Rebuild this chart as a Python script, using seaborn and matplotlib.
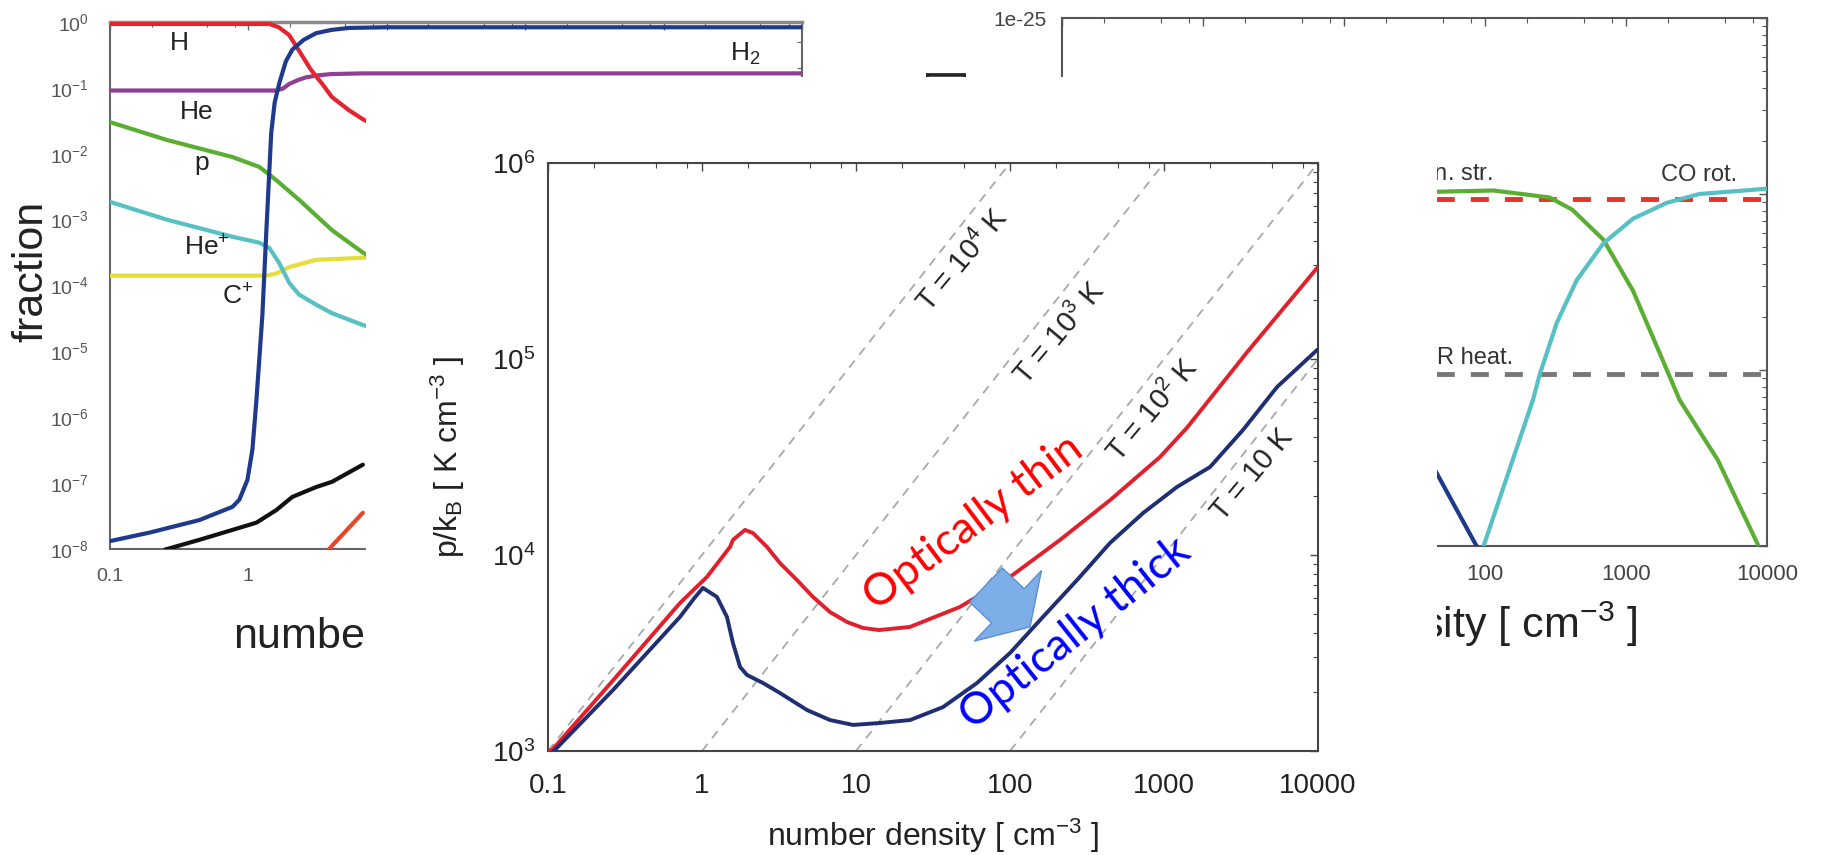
import numpy as np
import pandas as pd
import matplotlib
matplotlib.use("Agg")
import matplotlib.pyplot as plt
import seaborn as sns
from matplotlib.patches import Rectangle
from matplotlib.ticker import LogLocator, FuncFormatter, LogFormatterMathtext, NullFormatter

sns.set_theme(style="white")
plt.rcParams["font.family"] = ["Liberation Sans", "DejaVu Sans"]
plt.rcParams["mathtext.fontset"] = "custom"
plt.rcParams["mathtext.rm"] = "Liberation Sans"
plt.rcParams["mathtext.it"] = "Liberation Sans:italic"
plt.rcParams["mathtext.bf"] = "Liberation Sans:bold"

# ---------------- chemical abundances (log10 n [cm^-3], log10 fraction) ----------------
h_logn = [-1.0, 0.15, 0.22, 0.295, 0.367, 0.45, 0.53, 0.604, 0.727, 0.83, 0.95]
h_logx = [-0.03, -0.03, -0.08, -0.2, -0.44, -0.72, -0.93, -1.14, -1.34, -1.48, -1.6]

he_logn = [-1.0, 0.2, 0.25, 0.295, 0.36, 0.417, 0.5, 0.6, 0.83, 1.5, 4.0]
he_logx = [-1.04, -1.04, -1.01, -0.94, -0.88, -0.84, -0.81, -0.79, -0.78, -0.78, -0.78]

h2_logn = [-1.0, -0.712, -0.353, -0.115, -0.065, -0.007, 0.029, 0.058, 0.101, 0.129,
           0.165, 0.19, 0.223, 0.27, 0.317, 0.40, 0.489, 0.60, 0.727, 1.0, 4.0]
h2_logx = [-7.88, -7.75, -7.56, -7.36, -7.25, -6.95, -6.49, -5.74, -4.45, -3.2,
           -1.68, -1.22, -0.93, -0.60, -0.42, -0.27, -0.17, -0.12, -0.09, -0.08, -0.08]

p_logn = [-1.0, -0.59, -0.115, 0.079, 0.201, 0.367, 0.604, 0.827, 0.95]
p_logx = [-1.52, -1.79, -2.05, -2.2, -2.4, -2.7, -3.16, -3.5, -3.65]

hep_logn = [-1.0, -0.59, -0.115, 0.079, 0.151, 0.223, 0.295, 0.367, 0.489, 0.604, 0.827, 0.95]
hep_logx = [-2.73, -3.0, -3.26, -3.35, -3.43, -3.66, -3.96, -4.14, -4.29, -4.42, -4.6, -4.68]

cp_logn = [-1.0, 0.129, 0.2, 0.295, 0.489, 0.827, 0.95]
cp_logx = [-3.85, -3.85, -3.82, -3.72, -3.61, -3.58, -3.57]

em_logn = [-0.604, -0.353, -0.115, 0.058, 0.201, 0.317, 0.489, 0.604, 0.827]
em_logx = [-8.01, -7.86, -7.71, -7.6, -7.41, -7.21, -7.06, -6.98, -6.72]

co_logn = [0.56, 0.583, 0.827]
co_logx = [-8.05, -8.0, -7.45]

abund_labels = [("H", -0.496, -0.32), ("He", -0.374, -1.366), ("p", -0.338, -2.14),
                ("He$^{+}$", -0.302, -3.43), ("C$^{+}$", -0.079, -4.17), ("H$_2$", 3.59, -0.49)]

# ---------------- heating / cooling rates (log10 n, log10 rate) ----------------
fs_logn = [1.5, 2.06, 2.46, 2.62, 2.84, 3.05, 3.29, 3.38, 3.65, 3.94, 4.0]
fs_logl = [-25.99, -25.98, -26.02, -26.09, -26.26, -26.55, -27.0, -27.17, -27.51, -28.0, -28.1]

corot_logn = [1.9, 1.99, 2.18, 2.34, 2.39, 2.51, 2.65, 2.84, 3.05, 3.29, 3.52, 4.0]
corot_logl = [-28.6, -28.0, -27.55, -27.17, -27.02, -26.73, -26.49, -26.28, -26.14, -26.05, -26.0, -25.97]

h2c_logn = [1.6, 1.66, 1.94, 2.0]
h2c_logl = [-27.5, -27.59, -28.0, -28.1]

pe_logn = [-1.0, 4.0]
pe_logl = [-26.03, -26.03]
cr_logn = [-1.0, 4.0]
cr_logl = [-27.02, -27.02]

rate_labels = [("C$^{+}$ fin. str.", 2.057, -25.89, "right"),
               ("CO rot.", 3.518, -25.89, "center"),
               ("CR heat.", 2.2, -26.93, "right")]

# ---------------- thermal pressure (log10 n, log10 p/k) ----------------
thin_logn = [-1.0, -0.974, -0.578, -0.143, 0.032, 0.182, 0.201, 0.279, 0.331, 0.422, 0.506,
             0.617, 0.721, 0.831, 0.942, 1.045, 1.15, 1.35, 1.675, 2.0, 2.325, 2.65,
             2.974, 3.15, 3.545, 4.0]
thin_logp = [3.0, 3.005, 3.36, 3.755, 3.888, 4.041, 4.077, 4.128, 4.112, 4.041, 3.959,
             3.872, 3.786, 3.709, 3.658, 3.628, 3.617, 3.633, 3.735, 3.888, 4.077, 4.28,
             4.50, 4.65, 5.04, 5.47]

thick_logn = [-1.0, -0.968, -0.578, -0.143, -0.05, 0.006, 0.097, 0.162, 0.201, 0.247, 0.292,
              0.396, 0.506, 0.682, 0.831, 0.981, 1.156, 1.351, 1.565, 1.786, 2.0, 2.214,
              2.435, 2.649, 2.864, 3.084, 3.299, 3.513, 3.734, 3.994]
thick_logp = [2.97, 2.995, 3.311, 3.684, 3.78, 3.832, 3.786, 3.684, 3.551, 3.429, 3.388,
              3.347, 3.296, 3.209, 3.158, 3.133, 3.143, 3.158, 3.224, 3.347, 3.5, 3.684,
              3.872, 4.061, 4.214, 4.347, 4.449, 4.638, 4.857, 5.046]

isotherm_T = [10, 100, 1000, 10000]
isotherm_labels = [("T = 10 K", 3.571, 4.408), ("T = 10$^{2}$ K", 2.929, 4.74),
                   ("T = 10$^{3}$ K", 2.325, 5.13), ("T = 10$^{4}$ K", 1.695, 5.505)]

n_ticks = [0.1, 1, 10, 100, 1000, 10000]

# ------------------------------------------------------------------------------
W, H = 1822, 855
fig = plt.figure(figsize=(W / 100, H / 100), dpi=100)


def box(x0, y0, x1, y1):
    return [x0 / W, 1 - y1 / H, (x1 - x0) / W, (y1 - y0) / H]


def curve(ax, logn, logy, color, lw=3.0, ls="-", z=3):
    df = pd.DataFrame({"n": 10 ** np.asarray(logn, float), "v": 10 ** np.asarray(logy, float)})
    sns.lineplot(data=df, x="n", y="v", ax=ax, color=color, lw=lw, linestyle=ls,
                 sort=False, estimator=None, zorder=z, legend=False)


def style_axes(ax, spine_color, tick_color, label_size, label_color, xpad, ypad, lw=1.5):
    ax.set_xscale("log")
    ax.set_yscale("log")
    for s in ax.spines.values():
        s.set_color(spine_color)
        s.set_linewidth(lw)
        s.set_visible(True)
    ax.tick_params(which="both", direction="in", top=True, right=True,
                   color=tick_color, labelsize=label_size, labelcolor=label_color)
    ax.tick_params(axis="x", which="both", pad=xpad)
    ax.tick_params(axis="y", which="both", pad=ypad)
    ax.tick_params(which="major", length=6, width=1.0)
    ax.tick_params(which="minor", length=3.5, width=0.8)
    ax.xaxis.set_minor_locator(LogLocator(base=10, subs=(2, 5, 8), numticks=20))
    ax.xaxis.set_minor_formatter(NullFormatter())
    ax.yaxis.set_minor_formatter(NullFormatter())
    ax.grid(False)


nfmt = FuncFormatter(lambda v, pos: f"{v:g}")

# ---- left panel: abundances ----
ax_l = fig.add_axes(box(110, 22, 802, 549))
style_axes(ax_l, "#666666", "#666666", 14, "#555555", xpad=14, ypad=15)
curve(ax_l, cp_logn, cp_logx, "#e4de3a")
curve(ax_l, hep_logn, hep_logx, "#56c0c2")
curve(ax_l, p_logn, p_logx, "#5aae32")
curve(ax_l, em_logn, em_logx, "#111111")
curve(ax_l, co_logn, co_logx, "#e8462a")
curve(ax_l, he_logn, he_logx, "#8e3f92")
curve(ax_l, h_logn, h_logx, "#e3242e")
curve(ax_l, h2_logn, h2_logx, "#1f3a8c")
ax_l.set_xlim(0.1, 1e4)
ax_l.set_ylim(1e-8, 1.0)
ax_l.set_xticks(n_ticks)
ax_l.xaxis.set_major_formatter(nfmt)
ax_l.yaxis.set_major_locator(LogLocator(base=10, numticks=20))
ax_l.yaxis.set_major_formatter(LogFormatterMathtext())
ax_l.yaxis.set_minor_locator(LogLocator(base=10, subs=(2, 5), numticks=20))
ax_l.spines["top"].set_color("#8a8a8a")
ax_l.spines["top"].set_linewidth(2.5)
ax_l.set_xlabel("number density [ cm$^{-3}$ ]", fontsize=31, color="#222222")
ax_l.set_ylabel("fraction", fontsize=31, color="#222222")
ax_l.xaxis.set_label_coords(0.5, -0.116)
ax_l.yaxis.set_label_coords(-0.085, 0.526)
for txt, ln, lx in abund_labels:
    ax_l.text(10 ** ln, 10 ** lx, txt, fontsize=19, color="#222222", ha="center", va="center")

# ---- right panel: heating and cooling ----
ax_r = fig.add_axes(box(1062, 18, 1767, 546))
style_axes(ax_r, "#555555", "#555555", 16, "#444444", xpad=13, ypad=11)
curve(ax_r, pe_logn, pe_logl, "#e0352b", lw=3.5, ls=(0, (3.7, 3.3)))
curve(ax_r, cr_logn, cr_logl, "#777777", lw=3.5, ls=(0, (3.7, 3.3)))
curve(ax_r, fs_logn, fs_logl, "#5aae32")
curve(ax_r, corot_logn, corot_logl, "#56c0c4")
curve(ax_r, h2c_logn, h2c_logl, "#1f3a8c")
ax_r.set_xlim(0.1, 1e4)
ax_r.set_ylim(1e-28, 1e-25)
ax_r.set_xticks(n_ticks)
ax_r.xaxis.set_major_formatter(nfmt)
ax_r.yaxis.set_major_locator(LogLocator(base=10, numticks=20))
ax_r.yaxis.set_minor_locator(LogLocator(base=10, subs=np.arange(2, 10), numticks=20))
ax_r.yaxis.set_major_formatter(FuncFormatter(lambda v, pos: f"1e{int(round(np.log10(v)))}"))
ax_r.tick_params(axis="y", labelsize=15)
ax_r.set_xlabel("number density [ cm$^{-3}$ ]", fontsize=31, color="#222222")
ax_r.set_ylabel("")
ax_r.xaxis.set_label_coords(0.5, -0.102)
# vertical axis title, anchored by its closing bracket just under the top spine
ax_r.text(-0.13, 0.9, "cooling rate [ erg s$^{-1}$ ]", transform=ax_r.transAxes,
          fontsize=31, color="#222222", rotation=90, rotation_mode="anchor",
          ha="right", va="bottom")
for txt, ln, ll, ha in rate_labels:
    ax_r.text(10 ** ln, 10 ** ll, txt, fontsize=17, color="#333333", ha=ha, va="center")

# ---- white backing card for the pressure diagram ----
card = Rectangle((366 / W, 0), (1437 - 366) / W, 1 - 77 / H, transform=fig.transFigure,
                 facecolor="white", edgecolor="none", zorder=1)
fig.add_artist(card)

# ---- centre panel: thermal pressure ----
ax_c = fig.add_axes(box(548, 163, 1318, 751), zorder=2)
ax_c.set_facecolor("white")
style_axes(ax_c, "#444444", "#444444", 20, "#222222", xpad=16, ypad=9)
for T in isotherm_T:
    ax_c.axline((1.0, T), (10.0, 10.0 * T), color="#a8a8a8", lw=1.3,
                linestyle=(0, (5, 4)), zorder=2)
curve(ax_c, thin_logn, thin_logp, "#e0202c", lw=2.8, z=4)
curve(ax_c, thick_logn, thick_logp, "#1f2f72", lw=2.8, z=4)
ax_c.set_xlim(0.1, 1e4)
ax_c.set_ylim(1e3, 1e6)
ax_c.set_xticks(n_ticks)
ax_c.xaxis.set_major_formatter(nfmt)
ax_c.yaxis.set_major_locator(LogLocator(base=10, numticks=20))
ax_c.yaxis.set_minor_locator(LogLocator(base=10, subs=np.arange(2, 10), numticks=20))
ax_c.yaxis.set_major_formatter(LogFormatterMathtext())
ax_c.set_xlabel("number density [ cm$^{-3}$ ]", fontsize=23, color="#222222")
ax_c.set_ylabel("p/k$_{\\mathrm{B}}$ [ K cm$^{-3}$ ]", fontsize=23, color="#222222")
ax_c.xaxis.set_label_coords(0.5, -0.112)
ax_c.yaxis.set_label_coords(-0.105, 0.5)
for txt, ln, lp in isotherm_labels:
    ax_c.text(10 ** ln, 10 ** lp, txt, fontsize=21, color="#222222", rotation=50,
              ha="center", va="center", rotation_mode="anchor", zorder=3)

ax_c.text(10 ** 1.76, 10 ** 4.163, "Optically thin", fontsize=32, color="#ff0000",
          family=["Lato", "DejaVu Sans"], rotation=37, ha="center", va="center",
          rotation_mode="anchor", zorder=5)
ax_c.text(10 ** 2.422, 10 ** 3.602, "Optically thick", fontsize=32, color="#0000ff",
          family=["Lato", "DejaVu Sans"], rotation=38.5, ha="center", va="center",
          rotation_mode="anchor", zorder=5)
ax_c.annotate("", xy=(10 ** 2.13, 10 ** 3.633), xytext=(10 ** 1.844, 10 ** 3.847),
              arrowprops=dict(arrowstyle="simple,head_length=22,head_width=70,tail_width=34",
                              mutation_scale=1, fc="#7eaee8", ec="#5a8fd4", lw=1.0,
                              shrinkA=0, shrinkB=0), zorder=6)

fig.savefig("out.png", dpi=100, facecolor="white")
